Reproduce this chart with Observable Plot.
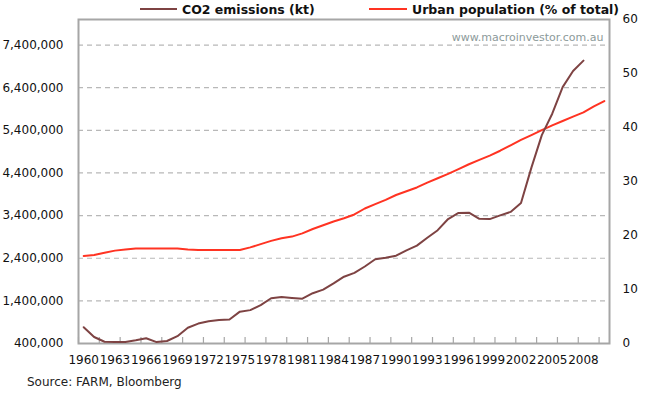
<!DOCTYPE html>
<html>
<head>
<meta charset="utf-8">
<script src="https://cdn.jsdelivr.net/npm/d3@7"></script>
<script src="https://cdn.jsdelivr.net/npm/@observablehq/plot@0.6"></script>
<style>
  body { margin: 0; background: #fff; }
  #wrap { position: relative; width: 648px; height: 395px; font-family: "DejaVu Sans", sans-serif; }
  #chart { position: absolute; left: 0; top: 0; }
  .leg { position: absolute; top: 2px; font-weight: bold; font-size: 12.5px; color: #111; white-space: nowrap; line-height: 16px; }
  .sw { position: absolute; height: 2px; }
  #source { position: absolute; left: 27px; top: 375px; font-size: 12px; color: #222; white-space: nowrap; }
</style>
</head>
<body>
<div id="wrap">
  <div id="chart"></div>
  <div class="sw" style="left:140px;top:8px;width:37px;background:#7e4343;"></div>
  <div class="leg" style="left:182px;">CO2 emissions (kt)</div>
  <div class="sw" style="left:369px;top:8px;width:38px;background:#ff3322;"></div>
  <div class="leg" style="left:412px;">Urban population (% of total)</div>
  <div id="source">Source: FARM, Bloomberg</div>
</div>
<script>
// Categories
const years = d3.range(1960, 2011);
// CO2 emissions (kt), 1960-2008
const co2 = [780726, 552066, 440359, 436695, 436923, 475791, 522717, 433355, 458918, 571795,
  770721, 867603, 920815, 951680, 962909, 1147000, 1183000, 1300000, 1462000, 1488000,
  1467000, 1451000, 1580000, 1664000, 1811000, 1967000, 2057000, 2206000, 2376000, 2410000,
  2460000, 2584000, 2695000, 2879000, 3058000, 3320000, 3463000, 3469000, 3324000, 3318000,
  3405000, 3487000, 3694000, 4525000, 5288000, 5790000, 6414000, 6791000, 7035000];
// Urban population (% of total), 1960-2010
const urban = [16.2, 16.4, 16.8, 17.2, 17.4, 17.6, 17.6, 17.6, 17.6, 17.6,
  17.4, 17.3, 17.3, 17.3, 17.3, 17.3, 17.8, 18.4, 19.0, 19.5,
  19.8, 20.4, 21.2, 21.9, 22.6, 23.2, 23.9, 25.0, 25.8, 26.6,
  27.5, 28.2, 28.9, 29.8, 30.6, 31.4, 32.3, 33.2, 34.0, 34.8,
  35.7, 36.7, 37.7, 38.6, 39.5, 40.4, 41.2, 42.0, 42.8, 43.9, 44.9];
// Tick labels
const leftTicks = [400000, 1400000, 2400000, 3400000, 4400000, 5400000, 6400000, 7400000];
const rightTicks = [0, 10, 20, 30, 40, 50, 60];
const xLabels = [1960, 1963, 1966, 1969, 1972, 1975, 1978, 1981, 1984, 1987, 1990, 1993, 1996, 1999, 2002, 2005, 2008];
const watermark = "www.macroinvestor.com.au";

const yMin = 400000, yMax = 8000000, rMax = 60;
const toLeft = p => yMin + p / rMax * (yMax - yMin);
const toRight = v => (v - yMin) / (yMax - yMin) * rMax;

const co2Data = co2.map((v, i) => ({year: years[i], value: v}));
const urbanData = urban.map((p, i) => ({year: years[i], value: toLeft(p)}));
const boundaries = d3.range(0, years.length + 1, 2).map(i => years[0] - 0.5 + i);

const chart = Plot.plot({
  width: 648,
  height: 395,
  marginLeft: 78,
  marginRight: 39,
  marginTop: 19,
  marginBottom: 52,
  style: {fontFamily: "DejaVu Sans, sans-serif", fontSize: "12px", color: "#111", background: "#fff"},
  x: {domain: [years[0] - 0.5, years[years.length - 1] + 0.5]},
  y: {domain: [yMin, yMax]},
  marks: [
    Plot.gridY(leftTicks, {stroke: "#b8b8b8", strokeOpacity: 1, strokeDasharray: "5,4", strokeWidth: 1.2}),
    Plot.ruleX(boundaries, {stroke: "#a6a6a6", strokeWidth: 1.2, insetTop: 318}),
    Plot.frame({stroke: "#a6a6a6", strokeWidth: 2}),
    Plot.axisY(leftTicks, {anchor: "left", tickSize: 0, tickPadding: 15, tickFormat: d3.format(","), label: null}),
    Plot.axisY(rightTicks.map(toLeft), {anchor: "right", tickSize: 0, tickPadding: 13, tickFormat: d => String(Math.round(toRight(d))), label: null}),
    Plot.axisX(xLabels, {anchor: "bottom", tickSize: 0, tickPadding: 12, tickFormat: d => String(d), label: null}),
    Plot.text([watermark], {text: d => d, frameAnchor: "top-right", dx: -6, dy: 18, lineAnchor: "middle", fill: "#8c9a9a", fontSize: 11}),
    Plot.line(urbanData, {x: "year", y: "value", stroke: "#ff3322", strokeWidth: 2}),
    Plot.line(co2Data, {x: "year", y: "value", stroke: "#7e4343", strokeWidth: 2})
  ]
});
document.getElementById("chart").appendChild(chart);
</script>
</body>
</html>
